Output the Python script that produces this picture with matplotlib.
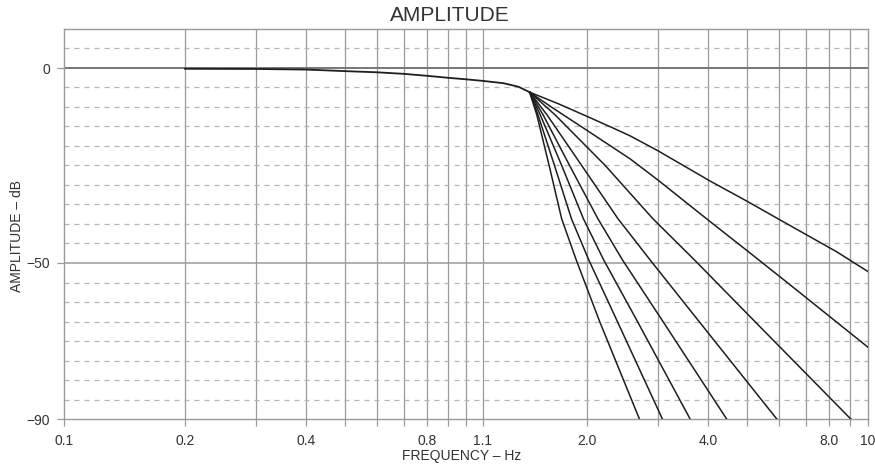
import matplotlib
matplotlib.use('Agg')
import matplotlib.pyplot as plt

# shared passband of all the curves (Hz, dB)
pass_freq = [0.2, 0.3, 0.4, 0.5, 0.6, 0.7, 0.8, 0.9, 1.0, 1.1, 1.24, 1.35, 1.44]
pass_db = [-0.2, -0.25, -0.4, -0.8, -1.1, -1.5, -2.0, -2.5, -2.9, -3.3, -3.9, -4.8, -6.2]

# stopband: six steep curves read at the same dB levels
stop_db = [-12, -25, -38.7, -49.2, -65, -90]
curve1_freq = [1.50, 1.61, 1.73, 1.88, 2.15, 2.70]
curve2_freq = [1.51, 1.66, 1.83, 2.02, 2.38, 3.08]
curve3_freq = [1.53, 1.73, 1.96, 2.20, 2.67, 3.61]
curve4_freq = [1.555, 1.81, 2.13, 2.45, 3.09, 4.45]
curve5_freq = [1.59, 1.94, 2.39, 2.87, 3.80, 5.93]
curve6_freq = [1.665, 2.22, 2.92, 3.70, 5.23, 9.06]

# the two shallow curves run out at the right edge
curve7_freq = [1.63, 2.0, 2.56, 3.0, 4.05, 5.04, 6.33, 10.0]
curve7_db = [-10, -16.0, -23.3, -28.7, -39.4, -47.1, -55.2, -71.6]
curve8_freq = [1.7, 2.0, 2.3, 2.56, 3.0, 4.05, 4.99, 6.15, 8.35, 10.0]
curve8_db = [-9.2, -12.4, -15.2, -17.4, -21.2, -29.0, -34.1, -39.4, -47.1, -52.2]

grid_freq = [0.2, 0.3, 0.4, 0.5, 0.6, 0.7, 0.8, 0.9, 1.0, 1.1,
             2, 3, 4, 5, 6, 7, 8, 9]
tick_labels = {0.1: '0.1', 0.2: '0.2', 0.4: '0.4', 0.8: '0.8', 1.1: '1.1',
               2: '2.0', 4: '4.0', 8: '8.0', 10: '10'}

LINE = '#1e1e1e'
GRID = '#9a9a9a'
TEXT = '#333333'

plt.rcParams['font.family'] = ['Liberation Sans', 'DejaVu Sans']

fig = plt.figure(figsize=(8.75, 4.69), dpi=100)
ax = fig.add_axes([64 / 875, 50 / 469, 804 / 875, 390 / 469])
ax.set_xscale('log')
ax.set_xlim(0.1, 10)
ax.set_ylim(-90, 10)

# grid
for f in grid_freq:
    ax.axvline(f, color=GRID, lw=0.9, zorder=1)
for level in range(5, -90, -5):
    if level in (0, -50):
        ax.axhline(level, color=GRID, lw=1.1, zorder=1)
    else:
        ax.axhline(level, color='#b5b5b5', lw=0.9, ls=(0, (4, 4)), zorder=1)
ax.axhline(0, color='#707070', lw=1.2, zorder=1)

# curves
ax.plot(pass_freq, pass_db, color=LINE, lw=1.3, zorder=3)
for freq in [curve1_freq, curve2_freq, curve3_freq, curve4_freq,
             curve5_freq, curve6_freq]:
    ax.plot([pass_freq[-1]] + freq, [pass_db[-1]] + stop_db,
            color=LINE, lw=1.1, zorder=3)
for freq, db in [(curve7_freq, curve7_db), (curve8_freq, curve8_db)]:
    ax.plot([pass_freq[-1]] + freq, [pass_db[-1]] + db,
            color=LINE, lw=1.1, zorder=3)

# axes, ticks and labels
for side in ax.spines.values():
    side.set_color(GRID)
    side.set_linewidth(1.0)

xt = [0.1] + grid_freq + [10]
ax.set_xticks(xt)
ax.set_xticklabels([tick_labels.get(f, '') for f in xt])
ax.minorticks_off()
ax.tick_params(axis='x', length=5, width=0.9, color=GRID, pad=6,
               labelsize=10, labelcolor=TEXT)
ax.set_yticks([0, -50, -90])
ax.set_yticklabels(['0', '\u221250', '\u221290'])
ax.tick_params(axis='y', length=5, width=0.9, color=GRID, pad=5,
               labelsize=10, labelcolor=TEXT)

fig.text(0.514, 0.955, 'AMPLITUDE', ha='center', va='baseline',
         fontsize=15, color=TEXT)
fig.text(0.527, 0.028, 'FREQUENCY \u2013 Hz', ha='center', va='center',
         fontsize=10, color=TEXT)
fig.text(0.019, 0.497, 'AMPLITUDE \u2013 dB', ha='center', va='center',
         rotation=90, fontsize=10, color=TEXT)

fig.savefig('out.png', dpi=100)
